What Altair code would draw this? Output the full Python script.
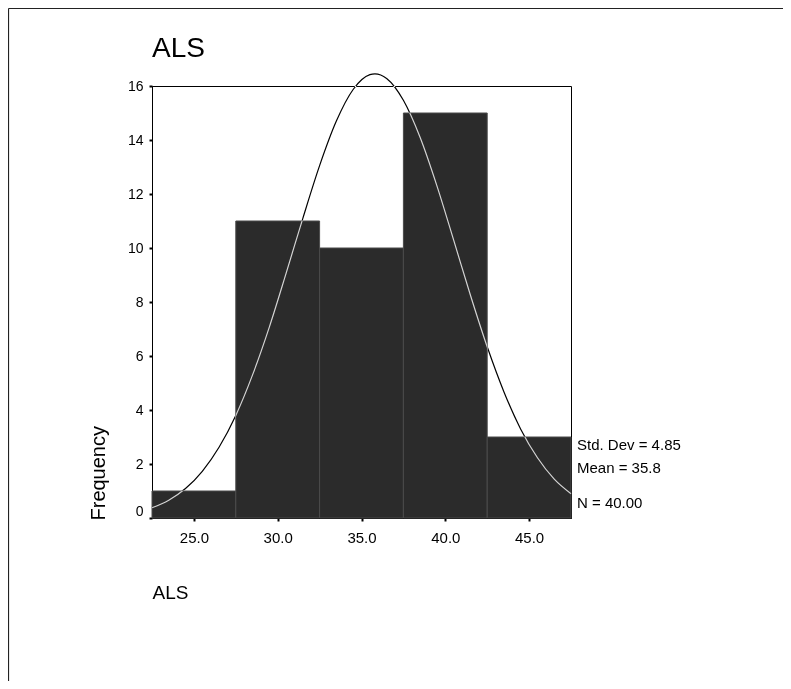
import altair as alt
import pandas as pd

# Histogram bins (ALS) and frequencies
bin_start = [22.5, 27.5, 32.5, 37.5, 42.5]
bin_end = [27.5, 32.5, 37.5, 42.5, 47.5]
freq = [1, 11, 10, 15, 3]

# Normal curve (x value, frequency height)
curve_x = [22.5, 23.5, 24.5, 25.5, 26.5, 27.5, 28.5, 29.5, 30.5, 31.5, 32.5, 33.5,
           34.5, 35.5, 35.8, 36.5, 37.5, 38.5, 39.5, 40.5, 41.5, 42.5, 43.5, 44.5,
           45.5, 46.5, 47.5]
curve_y = [0.38, 0.66, 1.09, 1.73, 2.62, 3.80, 5.30, 7.07, 9.06, 11.10, 13.05, 14.70,
           15.87, 16.42, 16.45, 16.28, 15.47, 14.09, 12.30, 10.29, 8.25, 6.34, 4.67, 3.29,
           2.23, 1.44, 0.90]

x_ticks = [25.0, 30.0, 35.0, 40.0, 45.0]
y_ticks = [0, 2, 4, 6, 8, 10, 12, 14, 16]
stats = ["Std. Dev = 4.85", "Mean = 35.8", "N = 40.00"]

FONT = "Liberation Sans"
W, H = 419, 432

bars_df = pd.DataFrame({"start": bin_start, "end": bin_end, "count": freq})
curve_df = pd.DataFrame({"x": curve_x, "y": curve_y})

xscale = alt.Scale(domain=[22.5, 47.5], nice=False, zero=False)
yscale = alt.Scale(domain=[0, 16], nice=False)

xaxis = alt.Axis(values=x_ticks, format=".1f", title="ALS", grid=False,
                 domainColor="black", tickColor="black", tickSize=3, tickWidth=2,
                 labelFont=FONT, labelFontSize=15, labelColor="black", labelPadding=9,
                 titleFont=FONT, titleFontSize=19, titleFontWeight="normal", titleColor="black",
                 titleAnchor="start", titleAlign="left", titleBaseline="alphabetic",
                 titleX=0, titleY=80)
yaxis = alt.Axis(values=y_ticks, title="Frequency", grid=False,
                 domainColor="black", tickColor="black", tickSize=3, tickWidth=2,
                 labelFont=FONT, labelFontSize=14, labelColor="black", labelPadding=6,
                 labelOffset={"expr": "datum.value === 0 ? -7 : 0"},
                 titleFont=FONT, titleFontSize=20, titleFontWeight="normal", titleColor="black",
                 titleAngle=270, titleAlign="left", titleBaseline="alphabetic",
                 titleX=-48, titleY=434)

bars = alt.Chart(bars_df).mark_rect(color="#2b2b2b", stroke="#4a4a4a", strokeWidth=1).encode(
    x=alt.X("start:Q", scale=xscale, axis=xaxis),
    x2="end:Q",
    y=alt.Y("count:Q", scale=yscale, axis=yaxis),
    y2=alt.datum(0),
)

curve = alt.Chart(curve_df).mark_line(color="white", strokeWidth=1.2, interpolate="monotone",
                                      blend="difference").encode(
    x=alt.X("x:Q", scale=xscale),
    y=alt.Y("y:Q", scale=yscale),
)

title = alt.Chart(pd.DataFrame({"t": ["ALS"]})).mark_text(
    font=FONT, fontSize=28, align="left", baseline="alphabetic", color="black"
).encode(x=alt.value(0), y=alt.value(-29), text="t:N")

stat_ys = [364, 387, 422]
stat_layers = [
    alt.Chart(pd.DataFrame({"t": [s]})).mark_text(
        font=FONT, fontSize=15, align="left", baseline="alphabetic", color="black"
    ).encode(x=alt.value(W + 6), y=alt.value(yy), text="t:N")
    for s, yy in zip(stats, stat_ys)
]

one = pd.DataFrame({"a": [0]})
border_top = alt.Chart(one).mark_rule(color="#222", strokeWidth=1.2).encode(
    x=alt.value(-143.5), x2=alt.value(631), y=alt.value(-77.5))
border_left = alt.Chart(one).mark_rule(color="#222", strokeWidth=1.2).encode(
    x=alt.value(-143.5), y=alt.value(-77.5), y2=alt.value(595))

chart = alt.layer(bars, curve, title, *stat_layers, border_top, border_left).properties(
    width=W, height=H,
    autosize=alt.AutoSizeParams(type="none"),
    padding={"left": 144, "top": 78, "right": 212, "bottom": 163},
    background="white",
).configure_view(stroke="black", strokeWidth=1)

chart.save("out.html", embed_options={"renderer": "svg", "actions": False})
